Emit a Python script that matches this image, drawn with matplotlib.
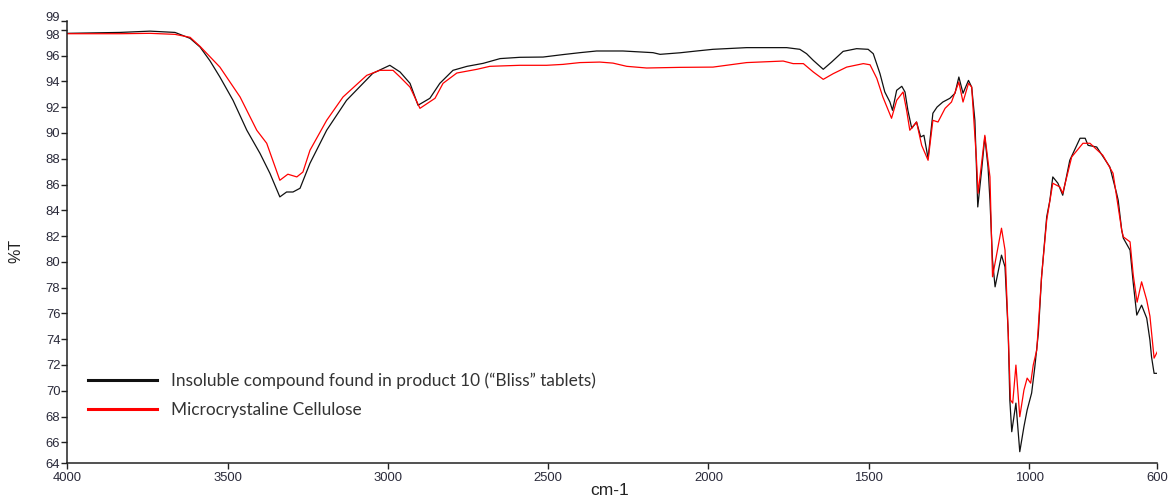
import numpy as np
import matplotlib
matplotlib.use("Agg")
import matplotlib.pyplot as plt

# ---- data ----
wn_black = [4000, 3836, 3742, 3664, 3617, 3586, 3555, 3524, 3483, 3440, 3399, 3368, 3337, 3316, 3296, 3274,
            3243, 3191, 3129, 3047, 2994, 2962, 2931, 2906, 2869, 2838, 2797, 2753, 2703, 2650, 2588,
            2516, 2454, 2401, 2349, 2267, 2173, 2151, 2089, 2037, 1986, 1881, 1756, 1715, 1694, 1673,
            1642, 1616, 1580, 1538, 1502, 1486, 1465, 1450, 1434, 1426, 1413, 1397, 1387, 1378, 1366,
            1351, 1338, 1328, 1315, 1300, 1287, 1269, 1247, 1231, 1219, 1206, 1189, 1179, 1169, 1160,
            1148, 1138, 1128, 1122, 1114, 1106, 1086, 1075, 1065, 1060, 1054, 1041, 1029, 1016, 1006,
            992, 982, 971, 961, 945, 935, 926, 910, 895, 873, 841, 825, 816, 789, 748, 727, 722, 711,
            706, 685, 675, 664, 649, 633, 623, 618, 610, 602]
t_black = [97.73, 97.8, 97.9, 97.8, 97.34, 96.67, 95.6, 94.34, 92.53, 90.21, 88.42, 86.87, 85.04, 85.42, 85.42, 85.71,
           87.65, 90.21, 92.53, 94.63, 95.25, 94.73, 93.85, 92.15, 92.69, 93.85, 94.86, 95.17, 95.4, 95.77, 95.87,
           95.89, 96.08, 96.23, 96.36, 96.36, 96.23, 96.1, 96.22, 96.36, 96.49, 96.62, 96.62, 96.49, 96.15, 95.63,
           94.94, 95.5, 96.33, 96.54, 96.49, 96.15, 94.6, 93.18, 92.4, 91.76, 93.31, 93.62, 93.18, 91.76, 90.36,
           90.85, 89.69, 89.82, 88.04, 91.53, 92.01, 92.4, 92.69, 93.08, 94.34, 93.08, 94.08, 93.56, 90.98, 84.26,
           87.11, 89.69, 87.36, 84.78, 80.13, 78.06, 80.52, 79.61, 74.47, 69.28, 66.82, 69.04, 65.27, 67.21, 68.5,
           69.82, 71.86, 74.47, 78.84, 83.49, 84.78, 86.59, 86.1, 85.17, 87.88, 89.59, 89.59, 89.04, 88.91, 87.36,
           85.32, 84.78, 82.46, 81.84, 80.91, 78.35, 75.87, 76.64, 75.63, 73.93, 72.63, 71.35, 71.35]

wn_red = [4000, 3836, 3742, 3664, 3617, 3586, 3524, 3461, 3409, 3378, 3337, 3312, 3284, 3265, 3243,
          3191, 3140, 3066, 3025, 2984, 2962, 2931, 2900, 2853, 2828, 2785, 2722, 2682, 2588, 2505,
          2454, 2401, 2339, 2298, 2255, 2193, 2089, 1986, 1881, 1767, 1736, 1704, 1673, 1642, 1611,
          1569, 1517, 1496, 1475, 1456, 1429, 1413, 1393, 1382, 1372, 1351, 1335, 1315, 1300, 1284,
          1262, 1242, 1219, 1206, 1189, 1179, 1164, 1159, 1138, 1122, 1114, 1086, 1075, 1065, 1058,
          1051, 1041, 1029, 1016, 1006, 995, 987, 976, 961, 945, 926, 904, 895, 867, 832, 810, 770,
          738, 711, 706, 685, 675, 663, 649, 633, 623, 610, 600]
t_red = [97.7, 97.7, 97.73, 97.65, 97.42, 96.72, 95.11, 92.79, 90.21, 89.2, 86.33, 86.8, 86.59, 86.97, 88.66,
         90.98, 92.79, 94.47, 94.86, 94.86, 94.34, 93.56, 91.91, 92.69, 93.85, 94.65, 94.94, 95.17, 95.25, 95.25,
         95.32, 95.46, 95.5, 95.42, 95.17, 95.04, 95.09, 95.11, 95.46, 95.58, 95.38, 95.38, 94.73, 94.16, 94.6,
         95.11, 95.38, 95.29, 94.24, 92.79, 91.14, 92.53, 93.18, 91.76, 90.21, 90.85, 89.04, 87.88, 90.98, 90.85,
         91.91, 92.4, 93.95, 92.4, 93.85, 93.56, 87.88, 85.32, 89.82, 86.59, 78.84, 82.61, 80.91, 74.47, 69.28,
         69.04, 71.99, 67.98, 70.05, 70.98, 70.59, 71.99, 73.15, 78.84, 83.23, 86.1, 85.81, 85.32, 88.14, 89.2, 89.2, 88.27,
         86.87, 82.46, 81.94, 81.55, 78.97, 76.87, 78.45, 77.03, 75.79, 72.53, 73.02]

series_labels = ["Insoluble compound found in product 10 (\u201cBliss\u201d tablets)",
                 "Microcrystaline Cellulose"]

x_ticks = [4000, 3500, 3000, 2500, 2000, 1500, 1000, 600]
x_tick_labels = ["4000", "3500", "3000", "2500", "2000", "1500", "1000", "600"]
y_ticks = [64.37, 66, 68, 70, 72, 74, 76, 78, 80, 82, 84, 86, 88, 90, 92, 94, 96, 98, 98.71]
y_tick_labels = ["64", "66", "68", "70", "72", "74", "76", "78", "80", "82", "84", "86", "88",
                 "90", "92", "94", "96", "98", "99"]

# ---- figure ----
W, H = 1169, 497
fig = plt.figure(figsize=(W / 100, H / 100), dpi=100)
ax = fig.add_axes([67.3 / W, 1 - 463.3 / H, 1090 / W, (463.3 - 20.7) / H])

l1, = ax.plot(wn_black, t_black, color="#111111", lw=0.9, label=series_labels[0])
l2, = ax.plot(wn_red, t_red, color="#ff0000", lw=0.9, label=series_labels[1])

ax.set_xlim(4000, 600)
ax.set_ylim(y_ticks[0], y_ticks[-1])
ax.set_xticks(x_ticks)
ax.set_xticklabels(x_tick_labels)
ax.set_yticks(y_ticks)
ax.set_yticklabels(y_tick_labels)

for s in ["top", "right"]:
    ax.spines[s].set_visible(False)
for s in ["left", "bottom"]:
    ax.spines[s].set_color("#222222")
    ax.spines[s].set_linewidth(1.1)

ax.tick_params(axis="both", direction="out", length=4, width=1, color="#222222",
               labelcolor="#2a2a3a", labelsize=9.4)
ax.tick_params(axis="x", pad=2)
ax.tick_params(axis="y", pad=1)
for lab in ax.get_xticklabels() + ax.get_yticklabels():
    lab.set_family("Liberation Sans")
# the top two labels (98, 99) sit very close: keep them from overlapping
ytl = ax.get_yticklabels()
ytl[-1].set_va("baseline")
ytl[-2].set_va("top")

ax.set_xlabel("cm-1", family="Liberation Sans", fontsize=12.5, color="#222222")
ax.xaxis.set_label_coords(0.498, -0.045)
ax.set_ylabel("%T", family="Liberation Sans", fontsize=11.5, color="#222222")
ax.yaxis.set_label_coords(-0.040, 0.48)

leg = ax.legend(loc="upper left", bbox_to_anchor=(0.019, 0.205), frameon=False,
                prop=dict(family="Lato", size=12.4), handlelength=4.0, handletextpad=0.8,
                labelspacing=0.72, borderpad=0, borderaxespad=0)
for t in leg.get_texts():
    t.set_color("#333333")
for ln in leg.get_lines():
    ln.set_linewidth(2.2)

fig.savefig("out.png", dpi=100)
